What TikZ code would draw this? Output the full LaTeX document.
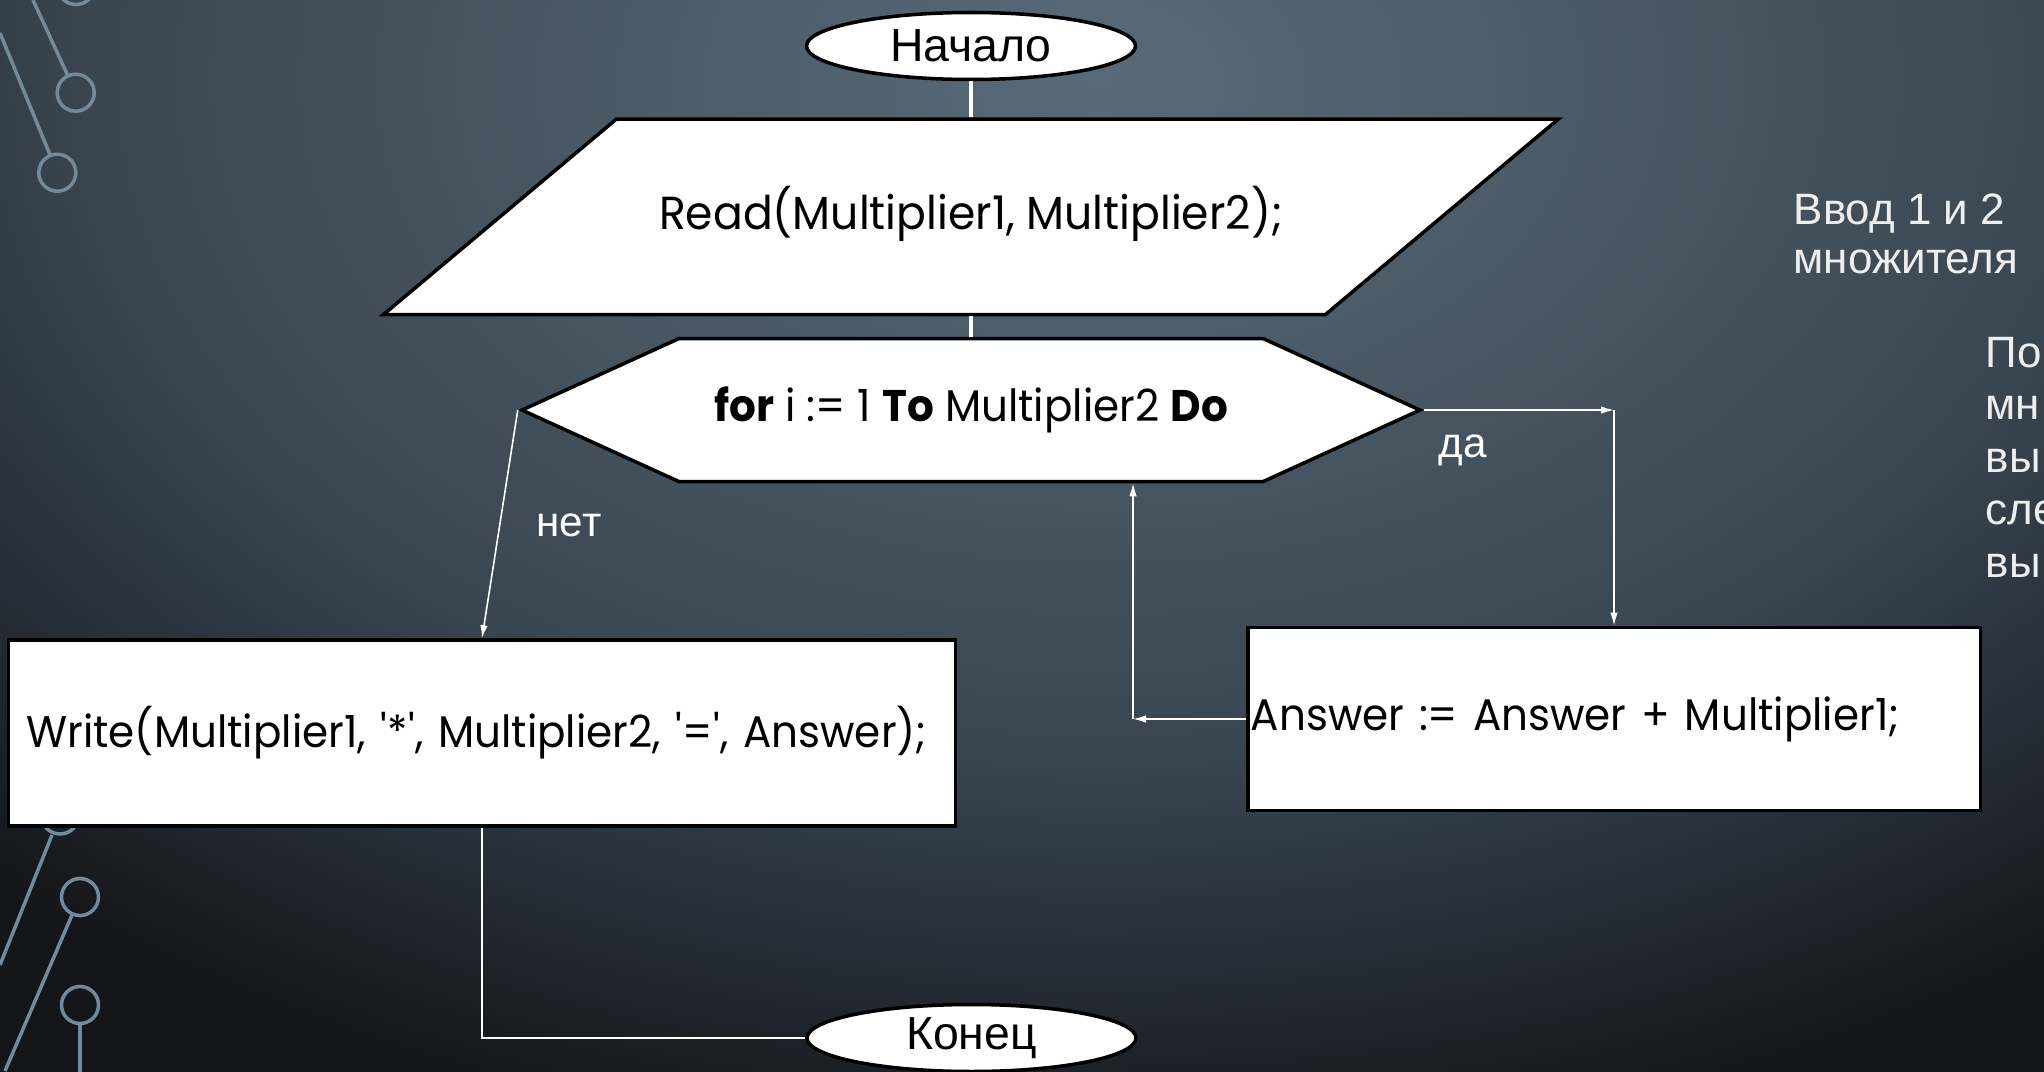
\documentclass[tikz,border=0pt]{standalone}
\usepackage{fontspec}
\setmainfont{Liberation Sans}
\newfontfamily\codefont{Poppins}[FakeStretch=0.95]
\usepackage{tikz}
\usetikzlibrary{positioning, shapes.geometric, shapes.symbols, arrows.meta}

\definecolor{bgA}{HTML}{586A78}
\definecolor{bgB}{HTML}{4A5966}
\definecolor{bgC}{HTML}{3A4651}
\definecolor{bgD}{HTML}{262E37}
\definecolor{bgE}{HTML}{121519}
\definecolor{deco}{HTML}{74899A}
\definecolor{notetext}{HTML}{EEEEEE}

\pgfdeclareradialshading{slide}{\pgfpoint{0bp}{0bp}}{color(0bp)=(bgA); color(6.25bp)=(bgB); color(12.5bp)=(bgC); color(16.5bp)=(bgD); color(20.6bp)=(bgE); color(50bp)=(bgE)}

\tikzset{
    terminal/.style={ellipse, draw=black, fill=white, line width=1pt, minimum width=3.29cm, minimum height=0.67cm, inner sep=0pt, font=\fontsize{13.2}{15}\selectfont},
    iobox/.style={trapezium, trapezium left angle=40, trapezium right angle=140, trapezium stretches body, draw=black, fill=white, line width=1pt, minimum width=11.75cm, text height=0.33cm, text depth=0.08cm, inner ysep=0.7725cm, font=\fontsize{13.2}{15}\selectfont\codefont},
    loopbox/.style={signal, signal to=west and east, signal pointer angle=49, draw=black, fill=white, line width=1pt, minimum width=8.98cm, minimum height=1.43cm, font=\fontsize{12.6}{15}\selectfont\codefont},
    procbox/.style={rectangle, draw=black, fill=white, line width=1pt, align=left, font=\fontsize{12.6}{15}\selectfont\codefont},
    link/.style={draw=white, line width=0.9pt},
    flow/.style={draw=white, line width=0.45pt, -{Latex[length=1.3mm, width=0.75mm]}},
    answer label/.style={text=white, inner sep=0pt, anchor=base west, font=\fontsize{12}{14}\selectfont},
    note/.style={text=notetext, inner sep=0pt, anchor=base west, align=left},
    deco line/.style={draw=deco, line width=1pt}
}

\begin{document}
\begin{tikzpicture}
    \useasboundingbox (0,0) rectangle (20.44,-10.71);
    % background
    \begin{scope}
        \clip (0,0) rectangle (20.44,-10.71);
        \shade[shading=slide] (11,-0.8) ellipse (20 and 13.33);
    \end{scope}

    % circuit decoration
    \draw[deco line] (0.33,0) -- (0.679,-0.758);
    \draw[deco line] (0.757,-0.927) circle (0.185);
    \draw[deco line] (0.76,0.14) circle (0.185);
    \draw[deco line] (0,-0.33) -- (0.503,-1.555);
    \draw[deco line] (0.573,-1.727) circle (0.185);
    \draw[deco line] (0.60,-8.155) circle (0.185);
    \draw[deco line] (0.52,-8.35) -- (0,-9.65);
    \draw[deco line] (0.80,-8.97) circle (0.185);
    \draw[deco line] (0.72,-9.15) -- (0.05,-10.71);
    \draw[deco line] (0.80,-10.05) circle (0.185);
    \draw[deco line] (0.80,-10.235) -- (0.80,-10.75);

    % flowchart
    \node[terminal] (start) at (9.71,-0.46) {Начало};
    \node[iobox, below=0.36cm of start] (read) {Read(Multiplier1, Multiplier2);};
    \node[loopbox, below=0.205cm of read] (loop) {\textbf{for} i := 1 \textbf{To} Multiplier2 \textbf{Do}};
    \node[procbox, text width=9.11cm, inner xsep=0.18cm, minimum height=1.86cm] (write) at (4.82,-7.33) {Write(Multiplier1, \textquotesingle*\textquotesingle, Multiplier2, \textquotesingle=\textquotesingle, Answer);};
    \node[procbox, text width=7.265cm, inner xsep=0.03cm, minimum height=1.83cm] (answer) at (16.14,-7.19) {Answer := Answer + Multiplier1;};
    \node[terminal] (stop) at (9.715,-10.38) {Конец};

    \coordinate (yescorner) at (answer.north |- loop.east);
    \coordinate (backcorner) at (answer.west -| 11.33,0);

    \draw[link] (start.south) -- (read.north);
    \draw[link] (read.south) -- (loop.north);
    \draw[flow] (loop.east) -- (yescorner);
    \draw[flow] (yescorner) -- (answer.north);
    \draw[flow] (answer.west) -- (backcorner);
    \draw[flow] (backcorner) -- (backcorner |- loop.south);
    \draw[flow] (loop.west) -- (write.north);
    \draw[link, line width=0.45pt] (write.south) |- (stop.west);

    \node[answer label] (yes) at (14.38,-4.57) {да};
    \node[answer label] (no) at (5.36,-5.36) {нет};

    % notes on the right (anchored at the last line)
    \node[note, font=\fontsize{12.5}{14.2}\selectfont] (inputnote) at (17.93,-2.74) {Ввод 1 и 2\\множителя};
    \node[note, font=\fontsize{12.5}{14.9}\selectfont] (loopnote) at (19.85,-5.77) {По\\мн\\вы\\сле\\вы};
\end{tikzpicture}
\end{document}
